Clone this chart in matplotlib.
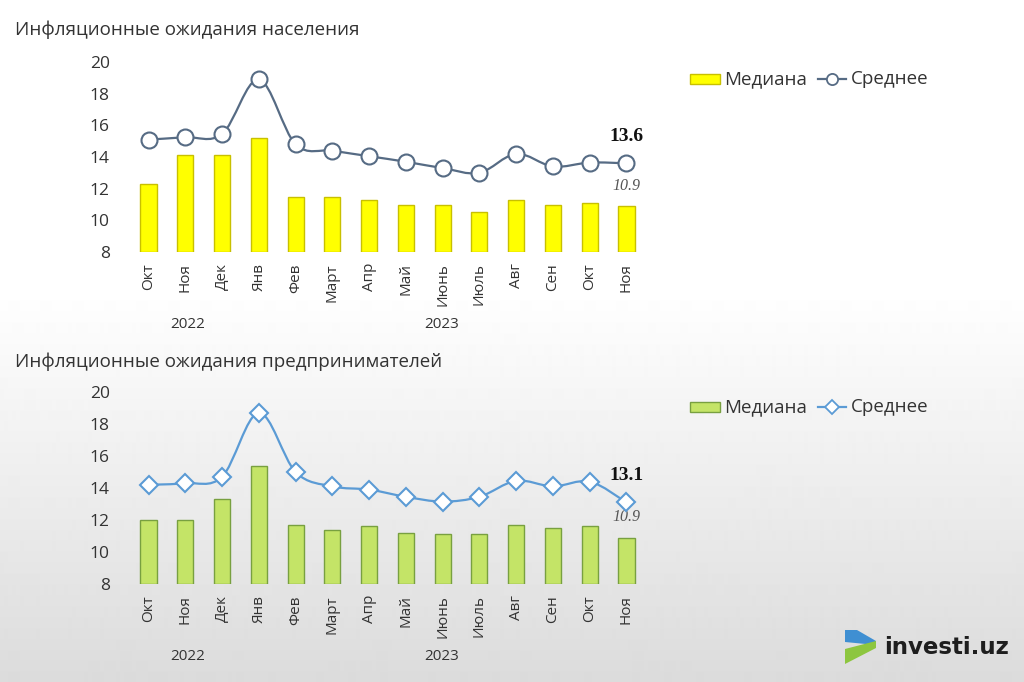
import numpy as np
import matplotlib.pyplot as plt
from matplotlib.path import Path
from matplotlib.patches import PathPatch, Polygon

plt.rcParams['font.family'] = ['Open Sans', 'DejaVu Sans']

months = ['Окт', 'Ноя', 'Дек', 'Янв', 'Фев', 'Март', 'Апр', 'Май',
          'Июнь', 'Июль', 'Авг', 'Сен', 'Окт', 'Ноя']
years = ['2022', '2023']

# население
pop_median = [12.3, 14.1, 14.1, 15.2, 11.5, 11.5, 11.3, 10.95, 10.95, 10.5, 11.3, 10.95, 11.1, 10.9]
pop_mean = [15.1, 15.25, 15.45, 18.9, 14.8, 14.4, 14.05, 13.7, 13.3, 13.0, 14.2, 13.4, 13.65, 13.6]

# предприниматели
biz_median = [12.0, 12.0, 13.3, 15.4, 11.7, 11.4, 11.6, 11.2, 11.1, 11.15, 11.7, 11.5, 11.65, 10.9]
biz_mean = [14.2, 14.3, 14.7, 18.7, 15.0, 14.1, 13.9, 13.45, 13.15, 13.45, 14.45, 14.1, 14.4, 13.1]

W, H = 1024, 682


def smooth_path(x, y):
    # кривая Катмулла-Рома через точки, как "сглаженная линия" в Excel
    pts = np.column_stack([x, y])
    verts = [pts[0]]
    codes = [Path.MOVETO]
    n = len(pts)
    for i in range(n - 1):
        p0 = pts[max(i - 1, 0)]
        p1 = pts[i]
        p2 = pts[i + 1]
        p3 = pts[min(i + 2, n - 1)]
        c1 = p1 + (p2 - p0) / 6
        c2 = p2 - (p3 - p1) / 6
        verts += [c1, c2, p2]
        codes += [Path.CURVE4] * 3
    return Path(verts, codes)


fig = plt.figure(figsize=(W / 100, H / 100), dpi=100)

# фон: белый сверху, светло-серый внизу
bg = fig.add_axes([0, 0, 1, 1])
bg.set_zorder(-10)
grad = np.concatenate([np.ones(290), np.linspace(1.0, 0.86, 392)]).reshape(-1, 1)
bg.imshow(grad, cmap='gray', vmin=0, vmax=1, aspect='auto',
          extent=[0, 1, 0, 1], interpolation='bilinear')
bg.set_axis_off()


def px_axes(left, top, right, bottom):
    return fig.add_axes([left / W, 1 - bottom / H, (right - left) / W, (bottom - top) / H])


def px(x, y):
    return (x / W, 1 - y / H)


def draw_panel(top, bottom, median, mean, bar_color, bar_edge, line_color, marker,
               msize, title, title_y, legend_y, year_y):
    ax = px_axes(132, top, 643, bottom)
    ax.patch.set_alpha(0)
    x = np.arange(len(months))
    ax.bar(x, np.array(median) - 8, bottom=8, width=0.44, color=bar_color,
           edgecolor=bar_edge, linewidth=1, label='Медиана', zorder=2)
    ax.add_patch(PathPatch(smooth_path(x, mean), fill=False, edgecolor=line_color,
                           linewidth=1.6, zorder=3))
    ax.plot(x, mean, linestyle='none', marker=marker, markersize=msize,
            markerfacecolor='white', markeredgecolor=line_color,
            markeredgewidth=1.5, zorder=4)
    ax.set_xlim(-0.45, len(months) - 0.55)
    ax.set_ylim(8, 20)
    ax.set_yticks(range(8, 21, 2))
    ax.set_xticks(x)
    ax.set_xticklabels(months, rotation=90, fontsize=11, color='#333333')
    ax.tick_params(axis='y', labelsize=12.5, colors='#333333', length=0, pad=16)
    ax.tick_params(axis='x', length=0, pad=8)
    for s in ax.spines.values():
        s.set_visible(False)

    ax.annotate(f'{mean[-1]:.1f}', (x[-1], mean[-1]), xytext=(0, 13),
                textcoords='offset points', ha='center', va='bottom',
                fontsize=14, fontweight='bold', family='Liberation Serif', color='#111111')
    ax.annotate(f'{median[-1]:.1f}', (x[-1], median[-1]), xytext=(0, 9),
                textcoords='offset points', ha='center', va='bottom',
                fontsize=11.5, style='italic', family='Liberation Serif', color='#555555')

    fig.text(15 / W, 1 - title_y / H, title, fontsize=13.5, color='#333333', va='center')
    fig.text(188 / W, 1 - year_y / H, years[0], fontsize=11, color='#333333', ha='center', va='center')
    fig.text(442 / W, 1 - year_y / H, years[1], fontsize=11, color='#333333', ha='center', va='center')

    # легенда
    lx = 690
    bar_h = 10
    fig.patches.append(plt.Rectangle((lx / W, 1 - (legend_y + bar_h / 2) / H), 30 / W, bar_h / H,
                                     transform=fig.transFigure, facecolor=bar_color,
                                     edgecolor=bar_edge, linewidth=1))
    fig.text(724 / W, 1 - legend_y / H, 'Медиана', fontsize=13.5, color='#333333', va='center')
    fig.lines.append(plt.Line2D([818 / W, 846 / W], [1 - legend_y / H] * 2,
                                transform=fig.transFigure, color=line_color, linewidth=1.6))
    fig.lines.append(plt.Line2D([832 / W], [1 - legend_y / H], transform=fig.transFigure,
                                linestyle='none', marker=marker, markersize=msize * 0.7,
                                markerfacecolor='white', markeredgecolor=line_color,
                                markeredgewidth=1.3))
    fig.text(851 / W, 1 - legend_y / H, 'Среднее', fontsize=13.5, color='#333333', va='center')
    return ax


draw_panel(62, 252, pop_median, pop_mean, '#ffff00', '#c8c000', '#566b84', 'o', 11.5,
           'Инфляционные ожидания населения', 30, 79, 325)
draw_panel(392, 584, biz_median, biz_mean, '#c4e467', '#78a040', '#5b9bd5', 'D', 9.5,
           'Инфляционные ожидания предпринимателей', 362, 407, 657)

# логотип investi.uz
blue = Polygon([px(845, 630), px(857, 630), px(876, 641), px(876, 645), px(845, 642)],
               closed=True, transform=fig.transFigure, facecolor='#3f8fd2', edgecolor='none')
green = Polygon([px(845, 649), px(876, 641), px(876, 648), px(845, 664)],
                closed=True, transform=fig.transFigure, facecolor='#8dc63f', edgecolor='none')
fig.patches.extend([blue, green])
fig.text(884 / W, 1 - 648 / H, 'investi.uz', fontsize=16.5, fontweight='bold',
         color='#1e1e1e', va='center', family='DejaVu Sans')

fig.savefig('out.png', dpi=100)
